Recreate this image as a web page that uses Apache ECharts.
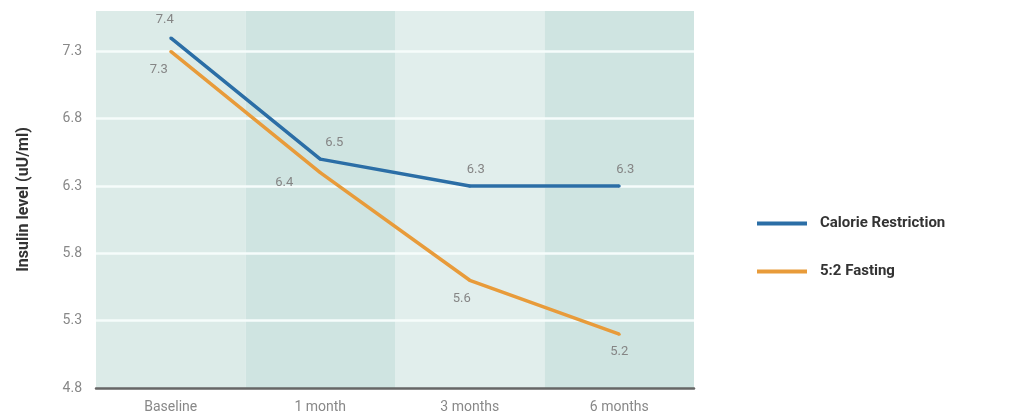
<!DOCTYPE html>
<html>
<head>
<meta charset="utf-8">
<script src="https://cdn.jsdelivr.net/npm/echarts@6/dist/echarts.min.js"></script>
<style>
 html, body { margin: 0; padding: 0; background: #fff; }
 #chart { width: 1018px; height: 419px; }
</style>
</head>
<body>
<div id="chart"></div>
<script>
const categories = ['Baseline', '1 month', '3 months', '6 months'];
const calorieRestriction = [7.4, 6.5, 6.3, 6.3];
const fasting52 = [7.3, 6.4, 5.6, 5.2];

const labelStyle = { show: true, color: '#858585', fontSize: 13, fontFamily: 'Roboto' };

const chart = echarts.init(document.getElementById('chart'), null, { renderer: 'canvas' });

chart.setOption({
 backgroundColor: '#fff',
 animation: false,
 grid: { left: 96, right: 324, top: 11, bottom: 31 },
 legend: {
  orient: 'vertical',
  left: 752,
  top: 211,
  icon: 'rect',
  itemWidth: 50,
  itemHeight: 4,
  itemGap: 33,
  textStyle: { color: '#333', fontSize: 15, fontWeight: 'bold', fontFamily: 'Roboto', padding: [0, 0, 0, 8] },
  data: ['Calorie Restriction', '5:2 Fasting'],
 },
 xAxis: {
  type: 'category',
  data: categories,
  boundaryGap: true,
  z: 0,
  axisLine: { lineStyle: { color: '#666', width: 2.5 } },
  axisTick: { show: false },
  axisLabel: { color: '#888', fontSize: 14, fontFamily: 'Roboto', margin: 12 },
  splitArea: { show: true, areaStyle: { color: ['#dcebe8', '#cfe4e1', '#e1eeec', '#cfe4e1'] } },
 },
 yAxis: {
  type: 'value',
  min: 4.8,
  max: 7.6,
  interval: 0.5,
  z: 1,
  name: 'Insulin level (uU/ml)',
  nameLocation: 'middle',
  nameGap: 64,
  nameTextStyle: { color: '#333', fontSize: 16, fontWeight: 'bold', fontFamily: 'Roboto' },
  axisLine: { show: false },
  axisTick: { show: false },
  axisLabel: {
   color: '#888', fontSize: 14, fontFamily: 'Roboto', margin: 14,
   showMaxLabel: false,
   formatter: (v) => v.toFixed(1),
  },
  splitLine: { showMinLine: false, showMaxLine: false, lineStyle: { color: '#f6fcfb', width: 2.5 } },
 },
 series: [
  {
   name: 'Calorie Restriction',
   type: 'line',
   data: calorieRestriction,
   symbol: 'circle',
   symbolSize: 3,
   color: '#2b6ea6',
   lineStyle: { width: 3.5, color: '#2b6ea6' },
   z: 3,
   label: { ...labelStyle, position: 'top', distance: 8, formatter: (p) => p.value.toFixed(1) },
   labelLayout: (p) => {
    if (p.dataIndex === 0) return { dx: -6, dy: -2 };
    if (p.dataIndex === 1) return { dx: 14, dy: 0 };
    return { dx: 6, dy: 0 };
   },
  },
  {
   name: '5:2 Fasting',
   type: 'line',
   data: fasting52,
   symbol: 'circle',
   symbolSize: 3,
   color: '#e89b3a',
   lineStyle: { width: 3.5, color: '#e89b3a' },
   z: 2,
   label: { ...labelStyle, position: 'bottom', distance: 10, formatter: (p) => p.value.toFixed(1) },
   labelLayout: (p) => {
    if (p.dataIndex === 0) return { dx: -12, dy: 0 };
    if (p.dataIndex === 1) return { dx: -36, dy: -8 };
    if (p.dataIndex === 2) return { dx: -8, dy: 0 };
    return { dx: 0, dy: 0 };
   },
  },
 ],
});
</script>
</body>
</html>
